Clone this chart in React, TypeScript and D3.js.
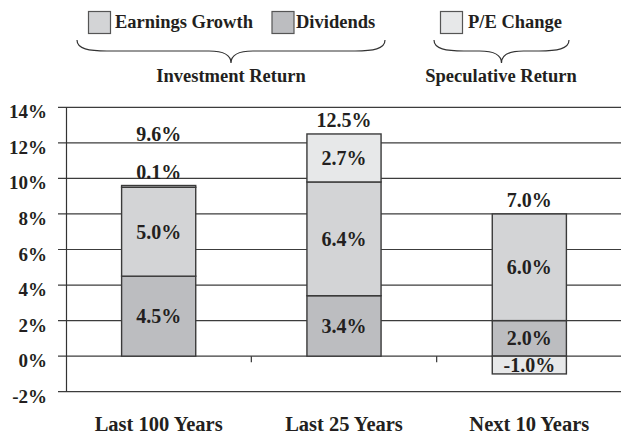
import React from "react";
import * as d3 from "d3";

const categories = ["Last 100 Years", "Last 25 Years", "Next 10 Years"];
const dividends = [4.5, 3.4, 2.0];
const earningsGrowth = [5.0, 6.4, 6.0];
const peChange = [0.1, 2.7, -1.0];
const totals = [9.6, 12.5, 7.0];
const yTicks = [-2, 0, 2, 4, 6, 8, 10, 12, 14];
const seriesKeys = ["dividends", "earnings", "pe"];
const seriesColors: Record<string, string> = {
  dividends: "#bcbdc0",
  earnings: "#d3d4d6",
  pe: "#e7e8e9",
};
const legendItems = [
  { key: "earnings", label: "Earnings Growth" },
  { key: "dividends", label: "Dividends" },
  { key: "pe", label: "P/E Change" },
];
const groupLabels = ["Investment Return", "Speculative Return"];

const W = 621;
const H = 434;
const FONT = "'Liberation Serif', 'Times New Roman', serif";
const INK = "#231f20";

function bracePath(x0: number, x1: number, yTop: number, yMid: number, yTip: number) {
  const c = (x0 + x1) / 2;
  return [
    `M${x0},${yTop}`,
    `C${x0},${yMid - 2} ${x0 + 12},${yMid} ${x0 + 30},${yMid}`,
    `L${c - 22},${yMid}`,
    `C${c - 8},${yMid} ${c},${yMid + 3} ${c},${yTip}`,
    `C${c},${yMid + 3} ${c + 8},${yMid} ${c + 22},${yMid}`,
    `L${x1 - 30},${yMid}`,
    `C${x1 - 12},${yMid} ${x1},${yMid - 2} ${x1},${yTop}`,
  ].join(" ");
}

export default function App() {
  const x = d3.scaleBand<string>().domain(categories).range([66, 622]).padding(0);
  const y = d3.scaleLinear().domain([-2, 14]).range([391.7, 107.3]);
  const barW = x.bandwidth() * 0.4;

  const rows = categories.map((c, i) => ({
    cat: c,
    dividends: dividends[i],
    earnings: earningsGrowth[i],
    pe: peChange[i],
  }));
  const stacked = d3
    .stack<any>()
    .keys(seriesKeys)
    .offset(d3.stackOffsetDiverging)(rows);

  const fmt = (v: number) => `${v.toFixed(1)}%`;

  const bars: React.ReactNode[] = [];
  const labels: React.ReactNode[] = [];
  const smallAbove: boolean[] = categories.map(() => false);

  stacked.forEach((layer) => {
    layer.forEach((seg, i) => {
      const cat = categories[i];
      const bx = (x(cat) as number) + (x.bandwidth() - barW) / 2;
      const y0 = y(Math.max(seg[0], seg[1]));
      const y1 = y(Math.min(seg[0], seg[1]));
      const v = (rows[i] as any)[layer.key];
      bars.push(
        <rect
          key={`${layer.key}-${i}`}
          x={bx}
          y={y0}
          width={barW}
          height={y1 - y0}
          fill={seriesColors[layer.key]}
          stroke="#3a3a3a"
          strokeWidth={1.4}
        />
      );
      const cx = bx + barW / 2;
      let by: number;
      if (v > 0 && y1 - y0 < 10) {
        by = y0 - 7;
        smallAbove[i] = true;
      } else {
        by = (y0 + y1) / 2 + 7;
      }
      labels.push(
        <text
          key={`l-${layer.key}-${i}`}
          x={cx}
          y={by}
          textAnchor="middle"
          fontSize={20}
          fontWeight="bold"
          fontFamily={FONT}
          fill={INK}
        >
          {fmt(v)}
        </text>
      );
    });
  });

  const totalLabels = categories.map((cat, i) => {
    const maxVal = d3.max(stacked, (l) => Math.max(l[i][0], l[i][1])) as number;
    const top = y(maxVal);
    const by = top - 7 - (smallAbove[i] ? 38 : 0);
    return (
      <text
        key={`t-${i}`}
        x={(x(cat) as number) + x.bandwidth() / 2}
        y={by}
        textAnchor="middle"
        fontSize={20}
        fontWeight="bold"
        fontFamily={FONT}
        fill={INK}
      >
        {fmt(totals[i])}
      </text>
    );
  });

  const legendPos = [
    { bx: 88.5, tx: 115 },
    { bx: 272, tx: 296 },
    { bx: 440.5, tx: 468 },
  ];

  return (
    <svg
      width={W}
      height={H}
      style={{ position: "absolute", left: 0, top: 0, background: "#fff" }}
    >
      <rect x={0} y={0} width={W} height={H} fill="#fff" />
      {legendItems.map((it, i) => (
        <g key={it.key}>
          <rect
            x={legendPos[i].bx}
            y={11.5}
            width={22}
            height={22}
            fill={seriesColors[it.key]}
            stroke="#555"
            strokeWidth={1.2}
          />
          <text
            x={legendPos[i].tx}
            y={28}
            fontSize={18.5}
            fontWeight="bold"
            fontFamily={FONT}
            fill={INK}
          >
            {it.label}
          </text>
        </g>
      ))}
      <path d={bracePath(77, 385, 40, 51, 63)} fill="none" stroke="#333" strokeWidth={1.2} />
      <path d={bracePath(434, 569, 40, 51, 63)} fill="none" stroke="#333" strokeWidth={1.2} />
      <text x={231} y={82} textAnchor="middle" fontSize={18.5} fontWeight="bold" fontFamily={FONT} fill={INK}>
        {groupLabels[0]}
      </text>
      <text x={501} y={82} textAnchor="middle" fontSize={18.5} fontWeight="bold" fontFamily={FONT} fill={INK}>
        {groupLabels[1]}
      </text>

      {yTicks.map((t) => (
        <g key={t}>
          <line x1={58} x2={621} y1={y(t)} y2={y(t)} stroke="#3c3c3c" strokeWidth={1.2} />
          <text
            x={47}
            y={y(t) + 11}
            textAnchor="end"
            fontSize={19}
            fontWeight="bold"
            fontFamily={FONT}
            fill={INK}
          >
            {`${t}%`}
          </text>
        </g>
      ))}
      <line x1={66.5} x2={66.5} y1={y(14)} y2={y(-2)} stroke="#333" strokeWidth={1.2} />
      {categories.slice(1).map((c) => (
        <line
          key={`tick-${c}`}
          x1={x(c) as number}
          x2={x(c) as number}
          y1={y(0)}
          y2={y(0) + 6}
          stroke="#333"
          strokeWidth={1.2}
        />
      ))}

      {bars}
      {labels}
      {totalLabels}

      {categories.map((c) => (
        <text
          key={`c-${c}`}
          x={(x(c) as number) + x.bandwidth() / 2}
          y={431}
          textAnchor="middle"
          fontSize={20.5}
          fontWeight="bold"
          fontFamily={FONT}
          fill={INK}
        >
          {c}
        </text>
      ))}
    </svg>
  );
}
